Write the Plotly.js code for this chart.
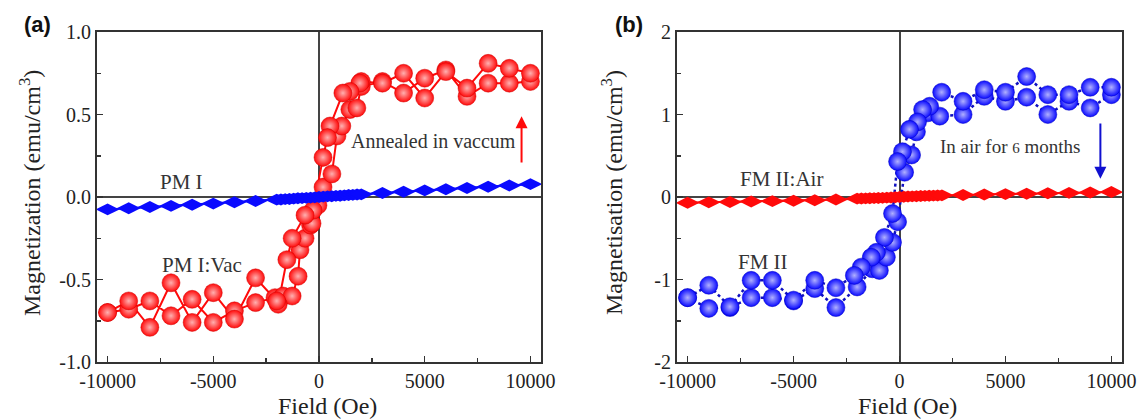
<!DOCTYPE html>
<html>
<head>
<meta charset="utf-8">
<script src="https://cdn.plot.ly/plotly-3.0.1.min.js"></script>
<style>html,body{margin:0;padding:0;background:#fff;}#chart{width:1138px;height:420px;}</style>
</head>
<body>
<div id="chart"></div>
<script>
// ---------- Panel (a) data ----------
// PM I:Vac loop, field increasing branch
const fieldUpA = [-10000,-9000,-8000,-7000,-6000,-5000,-4000,-3000,-2080,-1700,-1270,-990,-900,-660,-400,-330,-50,190,610,850,1080,1460,1790,2000,3000,4000,5000,6000,7000,8000,9000,10000];
const magUpA   = [-0.70,-0.68,-0.63,-0.72,-0.62,-0.76,-0.69,-0.64,-0.61,-0.60,-0.60,-0.48,-0.32,-0.25,-0.17,-0.16,-0.05,0.06,0.14,0.37,0.43,0.53,0.54,0.67,0.70,0.63,0.72,0.77,0.61,0.69,0.69,0.70];
// PM I:Vac loop, field decreasing branch
const fieldDownA = [10000,9000,8000,7000,6000,5000,4000,3000,2000,1930,1460,1130,520,400,190,-280,-660,-1270,-1520,-1930,-2000,-3000,-4000,-5000,-6000,-7000,-8000,-9000,-10000];
const magDownA   = [0.75,0.78,0.81,0.66,0.76,0.60,0.75,0.69,0.70,0.69,0.64,0.63,0.43,0.36,0.24,-0.08,-0.11,-0.25,-0.38,-0.65,-0.63,-0.49,-0.74,-0.58,-0.76,-0.52,-0.79,-0.63,-0.70];
// PM I (diamonds)
const fieldPM = [-10000,-9000,-8000,-7000,-6000,-5000,-4000,-3000,-2000,-1800,-1600,-1400,-1200,-1000,-800,-600,-400,-200,0,200,400,600,800,1000,1200,1400,1600,1800,2000,3000,4000,5000,6000,7000,8000,9000,10000];
const magPM   = [-0.075,-0.068,-0.061,-0.054,-0.047,-0.040,-0.032,-0.024,-0.016,-0.015,-0.013,-0.012,-0.010,-0.008,-0.007,-0.005,-0.004,-0.002,0.000,0.002,0.004,0.005,0.007,0.008,0.010,0.012,0.013,0.015,0.016,0.024,0.032,0.040,0.047,0.055,0.062,0.070,0.078];

// ---------- Panel (b) data ----------
// FM II loop, field increasing branch
const fieldUpB = [-10000,-9000,-8000,-7000,-6000,-5000,-4000,-3000,-2000,-1280,-950,-620,-330,-90,240,570,800,1330,1900,3000,4000,5000,6000,7000,8000,9000,10000];
const magUpB   = [-1.22,-1.35,-1.34,-1.22,-1.22,-1.26,-1.11,-1.34,-1.09,-0.87,-0.89,-0.73,-0.55,-0.30,0.30,0.51,0.79,1.02,0.98,1.00,1.22,1.16,1.21,1.00,1.16,1.08,1.24];
// FM II loop, field decreasing branch
const fieldDownB = [10000,9000,8000,7000,6000,5000,4000,3000,1990,1420,1090,850,470,140,-90,-330,-710,-1090,-1330,-1800,-2130,-3000,-4000,-5000,-6000,-7000,-8000,-9000,-10000];
const magDownB   = [1.33,1.33,1.24,1.24,1.46,1.27,1.30,1.16,1.27,1.10,1.06,0.91,0.82,0.55,0.43,-0.20,-0.49,-0.67,-0.73,-0.85,-0.95,-1.10,-1.01,-1.25,-1.01,-1.01,-1.33,-1.07,-1.22];
// FM II:Air (diamonds)
const fieldAir = [-10000,-9000,-8000,-7000,-6000,-5000,-4000,-3000,-2000,-1800,-1600,-1400,-1200,-1000,-800,-600,-400,-200,0,200,400,600,800,1000,1200,1400,1600,1800,2000,3000,4000,5000,6000,7000,8000,9000,10000];
const magAir   = [-0.07,-0.065,-0.06,-0.055,-0.05,-0.045,-0.04,-0.03,-0.02,-0.018,-0.017,-0.015,-0.014,-0.012,-0.010,-0.008,-0.006,-0.003,0,0.003,0.006,0.008,0.010,0.012,0.014,0.015,0.017,0.018,0.02,0.025,0.03,0.035,0.04,0.045,0.05,0.055,0.06];

// ---------- Tick labels ----------
const xTickVals = [-10000,-5000,0,5000,10000];
const xTickText = ['-10000','-5000','0','5000','10000'];
const yTickValsA = [-1,-0.5,0,0.5,1];
const yTickTextA = ['-1.0','-0.5','0.0','0.5','1.0'];
const yTickValsB = [-2,-1,0,1,2];
const yTickTextB = ['-2','-1','0','1','2'];

const SERIF = 'Liberation Serif, Times New Roman, serif';
const RED = '#ff0a0a';
const BLUE = '#0a0aff';

const traces = [
  {x: fieldUpA.concat(fieldDownA), y: magUpA.concat(magDownA), xaxis:'x', yaxis:'y', mode:'lines+markers',
   line:{color:RED, width:2},
   marker:{symbol:'circle', size:18, color:RED, gradient:{type:'radial', color:'#ffb0b0'}, line:{color:'#d00000', width:0.5}}},
  {x: fieldPM, y: magPM, xaxis:'x', yaxis:'y', mode:'lines+markers',
   line:{color:BLUE, width:2},
   marker:{symbol:'diamond-wide', size:17, color:BLUE, line:{width:0}}},
  {x: fieldUpB.concat(fieldDownB), y: magUpB.concat(magDownB), xaxis:'x2', yaxis:'y2', mode:'lines+markers',
   line:{color:'#1010c0', width:2.5, dash:'dot'},
   marker:{symbol:'circle', size:18, color:BLUE, gradient:{type:'radial', color:'#b0b0ff'}, line:{color:'#0000c0', width:0.5}}},
  {x: fieldAir, y: magAir, xaxis:'x2', yaxis:'y2', mode:'lines+markers',
   line:{color:RED, width:2},
   marker:{symbol:'diamond-wide', size:17, color:RED, line:{width:0}}}
];

const TICKFONT = {family:SERIF, size:20, color:'#222'};
function xAxis(domain, anchor){
  return {domain:domain, anchor:anchor, range:[-10500,10500], showgrid:false,
    tickmode:'array', tickvals:xTickVals, ticktext:xTickText,
    ticks:'inside', ticklen:6, tickwidth:1.5, tickcolor:'#333',
    minor:{tickmode:'linear', tick0:0, dtick:2500, ticks:'inside', ticklen:4, tickwidth:1.5, tickcolor:'#333'},
    showline:true, linecolor:'#333', linewidth:2, mirror:true,
    zeroline:true, zerolinecolor:'#444', zerolinewidth:2,
    tickfont:Object.assign({}, TICKFONT)};
}
function yAxis(domain, anchor, vals, text, minorD, rng){
  return {domain:domain, anchor:anchor, range:rng, showgrid:false,
    tickmode:'array', tickvals:vals, ticktext:text,
    ticks:'inside', ticklen:6, tickwidth:1.5, tickcolor:'#333',
    minor:{tickmode:'linear', tick0:0, dtick:minorD, ticks:'inside', ticklen:4, tickwidth:1.5, tickcolor:'#333'},
    showline:true, linecolor:'#333', linewidth:2, mirror:true,
    zeroline:true, zerolinecolor:'#444', zerolinewidth:2,
    tickfont:Object.assign({}, TICKFONT)};
}

function ann(o){ return Object.assign({xanchor:'center', yanchor:'middle', showarrow:false}, o); }

const yDom = [1-362/420, 1-32/420];
const layout = {
  width:1138, height:420, margin:{l:0,r:0,t:0,b:0},
  font:{family:SERIF, size:20, color:'#222'},
  paper_bgcolor:'#fff', plot_bgcolor:'#fff', showlegend:false,
  xaxis: xAxis([97/1138, 541/1138], 'y'),
  yaxis: yAxis(yDom, 'x', yTickValsA, yTickTextA, 0.25, [-1,1]),
  xaxis2: xAxis([677/1138, 1122/1138], 'y2'),
  yaxis2: yAxis(yDom, 'x2', yTickValsB, yTickTextB, 0.5, [-2,2]),
  annotations:[
    ann({xref:'paper', yref:'paper', x:37/1138, y:1-24/420, text:'<b>(a)</b>', font:{family:'Liberation Sans, Arial, sans-serif', size:22, color:'#111'}}),
    ann({xref:'paper', yref:'paper', x:629/1138, y:1-24/420, text:'<b>(b)</b>', font:{family:'Liberation Sans, Arial, sans-serif', size:22, color:'#111'}}),
    ann({xref:'paper', yref:'paper', x:30/1138, y:1-193/420, text:'Magnetization (emu/cm<sup>3</sup>)', textangle:-90, font:{family:SERIF, size:24, color:'#222'}}),
    ann({xref:'paper', yref:'paper', x:612/1138, y:1-193/420, text:'Magnetisation (emu/cm<sup>3</sup>)', textangle:-90, font:{family:SERIF, size:24, color:'#222'}}),
    ann({xref:'paper', yref:'paper', x:327/1138, y:1-406/420, text:'Field (Oe)', font:{family:SERIF, size:24, color:'#222'}}),
    ann({xref:'paper', yref:'paper', x:907/1138, y:1-406/420, text:'Field (Oe)', font:{family:SERIF, size:24, color:'#222'}}),
    ann({xref:'x', yref:'y', x:-6510, y:0.09, text:'PM I', font:{family:SERIF, size:21, color:'#333'}}),
    ann({xref:'x', yref:'y', x:-5520, y:-0.41, text:'PM I:Vac', font:{family:SERIF, size:21, color:'#333'}}),
    ann({xref:'x', yref:'y', x:5420, y:0.34, text:'Annealed in vaccum', font:{family:SERIF, size:20, color:'#333'}}),
    {xref:'x', yref:'y', axref:'x', ayref:'y', x:9580, y:0.49, ax:9580, ay:0.20, text:'', showarrow:true, arrowhead:2, arrowsize:1.2, arrowwidth:2, arrowcolor:RED},
    ann({xref:'x2', yref:'y2', x:-5590, y:0.22, text:'FM II:Air', font:{family:SERIF, size:21, color:'#333'}}),
    ann({xref:'x2', yref:'y2', x:-6450, y:-0.79, text:'FM II', font:{family:SERIF, size:21, color:'#333'}}),
    ann({xref:'x2', yref:'y2', x:5210, y:0.61, text:'In air for <span style="font-size:15px">6</span> months', font:{family:SERIF, size:19, color:'#333'}}),
    {xref:'x2', yref:'y2', axref:'x2', ayref:'y2', x:9480, y:0.22, ax:9480, ay:0.91, text:'', showarrow:true, arrowhead:2, arrowsize:1.2, arrowwidth:2, arrowcolor:'#1010d0'}
  ]
};

Plotly.newPlot('chart', traces, layout, {staticPlot:true, displayModeBar:false});
</script>
</body>
</html>
